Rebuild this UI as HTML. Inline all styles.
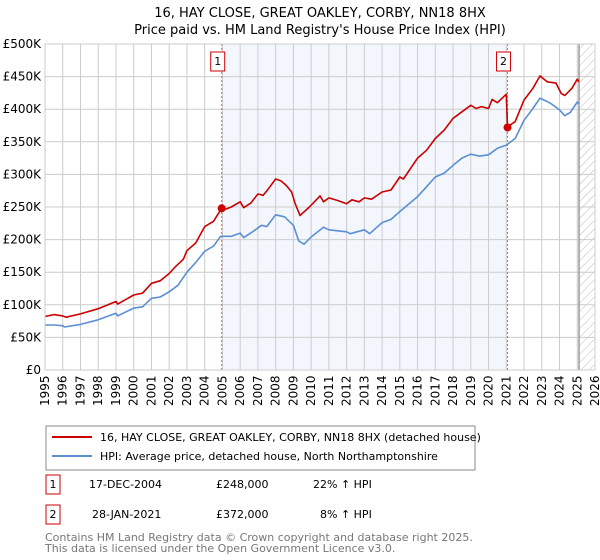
<!DOCTYPE html>
<html><head><meta charset="utf-8"><style>
body{margin:0;background:#fff;font-family:"Liberation Sans","DejaVu Sans",sans-serif;}
svg{display:block}
</style></head><body>
<svg id="c" width="600" height="560" font-family="'DejaVu Sans','Liberation Sans',sans-serif">
<text x="320" y="17" text-anchor="middle" font-size="13" fill="#000">16, HAY CLOSE, GREAT OAKLEY, CORBY, NN18 8HX</text>
<text x="320" y="34" text-anchor="middle" font-size="13" fill="#000">Price paid vs. HM Land Registry's House Price Index (HPI)</text>
<defs><pattern id="h" width="6" height="6" patternUnits="userSpaceOnUse" patternTransform="rotate(45)"><line x1="0" y1="0" x2="0" y2="6" stroke="#bbb" stroke-width="1"/></pattern></defs>
<g id="plot"></g>
<rect x="46" y="426" width="429" height="44" fill="#fff" stroke="#888"/>
<line x1="52" y1="437" x2="92" y2="437" stroke="#cc0000" stroke-width="2"/>
<text x="100" y="441" font-size="11">16, HAY CLOSE, GREAT OAKLEY, CORBY, NN18 8HX (detached house)</text>
<line x1="52" y1="456" x2="92" y2="456" stroke="#5b8fd4" stroke-width="2"/>
<text x="100" y="460" font-size="11">HPI: Average price, detached house, North Northamptonshire</text>
<g font-size="11">
<rect x="46" y="475" width="14" height="19" fill="none" stroke="#cc0000"/>
<text x="53" y="488" text-anchor="middle">1</text>
<text x="89" y="488">17-DEC-2004</text>
<text x="216" y="488">£248,000</text>
<text x="313" y="488">22% ↑ HPI</text>
<rect x="46" y="505" width="14" height="19" fill="none" stroke="#cc0000"/>
<text x="53" y="518" text-anchor="middle">2</text>
<text x="92" y="518">28-JAN-2021</text>
<text x="216" y="518">£372,000</text>
<text x="320" y="518">8% ↑ HPI</text>
</g>
<text x="45" y="541" font-size="11" fill="#777">Contains HM Land Registry data © Crown copyright and database right 2025.</text>
<text x="45" y="552" font-size="11" fill="#777">This data is licensed under the Open Government Licence v3.0.</text>
</svg>
<script>
const years=[1995,1996,1997,1998,1999,2000,2001,2002,2003,2004,2005,2006,2007,2008,2009,2010,2011,2012,2013,2014,2015,2016,2017,2018,2019,2020,2021,2022,2023,2024,2025,2026];
const yTicks=[0,50000,100000,150000,200000,250000,300000,350000,400000,450000,500000];
const yTickLabels=["£0","£50K","£100K","£150K","£200K","£250K","£300K","£350K","£400K","£450K","£500K"];
const hpiT=[1995,1995.5,1996,1996.1,1997,1998,1999,1999.1,2000,2000.5,2001,2001.5,2002,2002.5,2003,2003.5,2004,2004.5,2004.9,2005.5,2006,2006.2,2006.7,2007.2,2007.5,2008,2008.5,2009,2009.3,2009.6,2010,2010.7,2011,2012,2012.2,2013,2013.3,2014,2014.5,2015,2016,2016.5,2017,2017.5,2018,2018.5,2019,2019.5,2020,2020.5,2021,2021.5,2022,2022.5,2022.9,2023.5,2024,2024.3,2024.6,2025,2025.1];
const hpiV=[69,69,68,66,70,77,87,83,95,97,110,112,120,130,150,165,182,190,205,205,210,203,212,222,220,238,235,222,198,193,204,219,215,212,209,215,209,226,231,243,266,281,296,302,314,325,331,328,330,340,345,355,383,401,417,409,399,390,395,411,408];
const priceT=[1995,1995.5,1996,1996.2,1997,1998,1999,1999.1,2000,2000.5,2001,2001.5,2002,2002.3,2002.8,2003,2003.5,2003.8,2004,2004.5,2004.96,2005.2,2005.5,2006,2006.2,2006.6,2007,2007.3,2007.6,2008,2008.3,2008.6,2008.9,2009.1,2009.37,2009.9,2010.5,2010.7,2011,2011.5,2012,2012.3,2012.7,2013,2013.4,2014,2014.5,2015,2015.2,2016,2016.5,2017,2017.5,2018,2018.5,2019,2019.3,2019.6,2020,2020.2,2020.5,2021.0,2021.07,2021.5,2022,2022.5,2022.9,2023.3,2023.8,2024.1,2024.3,2024.7,2025,2025.1];
const priceV=[82,85,83,81,86,94,105,101,115,118,133,137,148,157,170,183,195,210,220,228,248,247,250,258,249,256,270,268,278,293,290,283,273,255,237,250,267,258,264,260,255,261,258,264,262,273,276,296,293,325,337,355,368,386,396,406,401,404,401,415,410,423,373,381,414,432,451,442,440,424,421,432,446,442];
const sales=[{t:2004.96,v:248,l:"1"},{t:2021.07,v:372,l:"2"}];
const X0=45,X1=595,Y0=370,Y1=44;
const xs=t=>X0+(t-1995)/(2026-1995)*(X1-X0);
const ys=v=>Y0-v/500000*(Y0-Y1);
const NS="http://www.w3.org/2000/svg";
const g=document.getElementById('plot');
function mk(tag,a,p){const e=document.createElementNS(NS,tag);for(const k in a)e.setAttribute(k,a[k]);(p||g).appendChild(e);return e;}
let e;
e=mk('rect',{x:xs(sales[0].t),y:Y1,width:xs(sales[1].t)-xs(sales[0].t),height:Y0-Y1,fill:'#eef3fc',opacity:0.7});


e=mk('rect',{x:xs(2025.1),y:Y1,width:X1-xs(2025.1),height:Y0-Y1,fill:'url(#h)'});


years.forEach(y=>{
 e=mk('line',{x1:xs(y),x2:xs(y),y1:Y1,y2:Y0,stroke:'#ccc','stroke-width':1});
 
 
 e=mk('text',{x:0,y:0,transform:`translate(${xs(y)+4},${Y0+36}) rotate(-90)`,'font-size':12,fill:'#000'});
 e.textContent=y;
 
 
});
yTicks.forEach((v,i)=>{
 e=mk('line',{x1:X0,x2:X1,y1:ys(v),y2:ys(v),stroke:'#ccc','stroke-width':1});
 
 
 e=mk('text',{x:X0-4,y:ys(v)+4,'text-anchor':'end','font-size':12,fill:'#000'});
 e.textContent=yTickLabels[i];
 
 
});
e=mk('line',{x1:xs(2025.1),x2:xs(2025.1),y1:Y1,y2:Y0,stroke:'#999','stroke-width':1.5});


function path(T,V,col,name){
 const d=T.map((t,i)=>(i?'L':'M')+xs(t).toFixed(1)+','+ys(V[i]*1000).toFixed(1)).join('');
 const p=mk('path',{d:d,fill:'none',stroke:col,'stroke-width':1.6,'stroke-linejoin':'round'});
 
 
}
sales.forEach(s=>{
 e=mk('line',{x1:xs(s.t),x2:xs(s.t),y1:Y1,y2:Y0,stroke:'#e06060','stroke-width':1,'stroke-dasharray':'2,2'});
 
 
});
path(hpiT,hpiV,'#5b8fd4','hpi-line');
path(priceT,priceV,'#cc0000','price-line');
sales.forEach(s=>{
 e=mk('circle',{cx:xs(s.t),cy:ys(s.v*1000),r:4,fill:'#cc0000'});
 
 
 e=mk('rect',{x:xs(s.t)-11,y:52,width:14,height:19,fill:'#fff',stroke:'#cc0000'});
 
 
 e=mk('text',{x:xs(s.t)-4,y:65,'text-anchor':'middle','font-size':11});
 e.textContent=s.l;
 
 
});
e=mk('rect',{x:X0,y:Y1,width:X1-X0,height:Y0-Y1,fill:'none',stroke:'#ccc'});


</script>
</body></html>
